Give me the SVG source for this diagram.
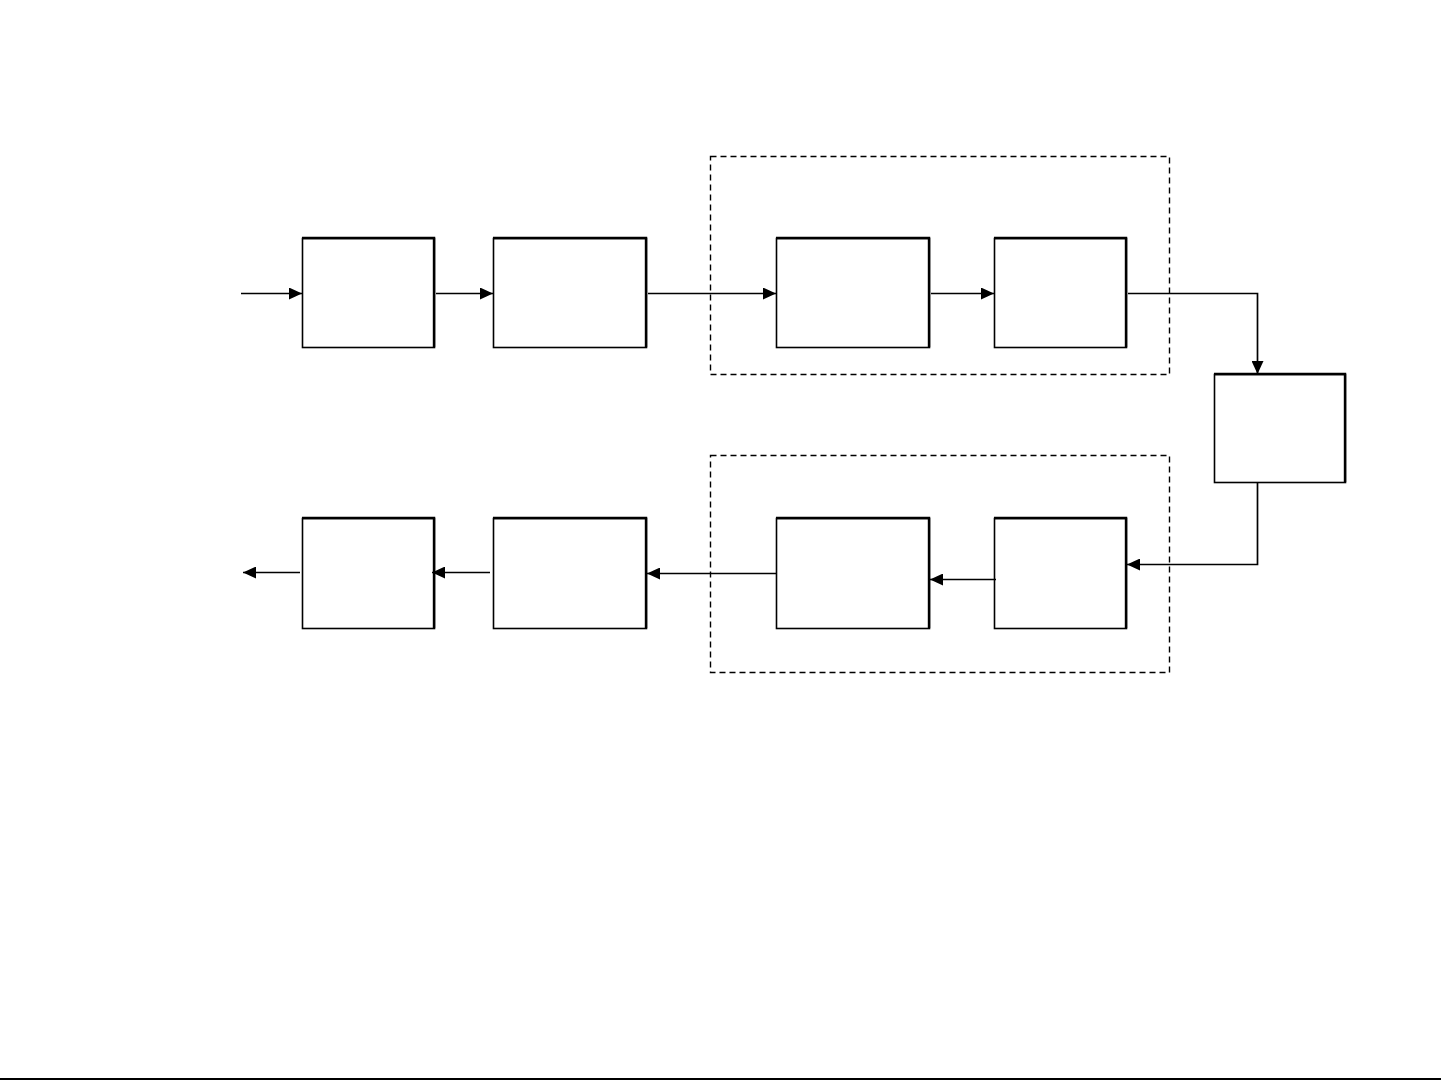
<svg xmlns="http://www.w3.org/2000/svg" width="1441" height="1081" viewBox="0 0 1441 1081">
<style>
.box{fill:#fff;stroke:#000;stroke-width:1.6}
.edge{stroke:#000;stroke-width:2.4;fill:none}
.grp{fill:none;stroke:#000;stroke-width:1.4;stroke-dasharray:6,4}
.conn{fill:none;stroke:#000;stroke-width:1.7}
</style>
<defs>
<marker id="ah" markerWidth="13" markerHeight="12" refX="13" refY="6" orient="auto" markerUnits="userSpaceOnUse">
<path d="M0,0 L13,6 L0,12 Z" fill="#000"/>
</marker>
</defs>
<rect width="1441" height="1081" fill="#fff"/>
<g id="groups">
<rect id="group-top" class="grp" x="710.5" y="156.5" width="459" height="218"/>
<rect id="group-bottom" class="grp" x="710.5" y="455.5" width="459" height="217"/>
</g>
<g id="n1"><rect class="box" x="302.5" y="238.5" width="132" height="109"/><path class="edge" d="M302,238 H434 V347"/></g>
<g id="n2"><rect class="box" x="493.5" y="238.5" width="153" height="109"/><path class="edge" d="M493,238 H646 V347"/></g>
<g id="n3"><rect class="box" x="776.5" y="238.5" width="153" height="109"/><path class="edge" d="M776,238 H929 V347"/></g>
<g id="n4"><rect class="box" x="994.5" y="238.5" width="132" height="109"/><path class="edge" d="M994,238 H1126 V347"/></g>
<g id="n5"><rect class="box" x="1214.5" y="374.5" width="131" height="108"/><path class="edge" d="M1214,374 H1345 V482"/></g>
<g id="n6"><rect class="box" x="302.5" y="518.5" width="132" height="110"/><path class="edge" d="M302,518 H434 V628"/></g>
<g id="n7"><rect class="box" x="493.5" y="518.5" width="153" height="110"/><path class="edge" d="M493,518 H646 V628"/></g>
<g id="n8"><rect class="box" x="776.5" y="518.5" width="153" height="110"/><path class="edge" d="M776,518 H929 V628"/></g>
<g id="n9"><rect class="box" x="994.5" y="518.5" width="132" height="110"/><path class="edge" d="M994,518 H1126 V628"/></g>
<g id="connectors">
<path class="conn" d="M241,293.5 H302" marker-end="url(#ah)"/>
<path class="conn" d="M436,293.5 H493" marker-end="url(#ah)"/>
<path class="conn" d="M648,293.5 H776" marker-end="url(#ah)"/>
<path class="conn" d="M931,293.5 H994" marker-end="url(#ah)"/>
<path class="conn" d="M1128,293.5 H1257.5 V374" marker-end="url(#ah)"/>
<path class="conn" d="M1257.5,483 V564.5 H1127" marker-end="url(#ah)"/>
<path class="conn" d="M996,579.5 H930" marker-end="url(#ah)"/>
<path class="conn" d="M776,573.5 H647" marker-end="url(#ah)"/>
<path class="conn" d="M490,572.5 H432" marker-end="url(#ah)"/>
<path class="conn" d="M300,572.5 H243" marker-end="url(#ah)"/>
</g>
<line x1="0" y1="1079" x2="1441" y2="1079" stroke="#000" stroke-width="2"/>
</svg>
